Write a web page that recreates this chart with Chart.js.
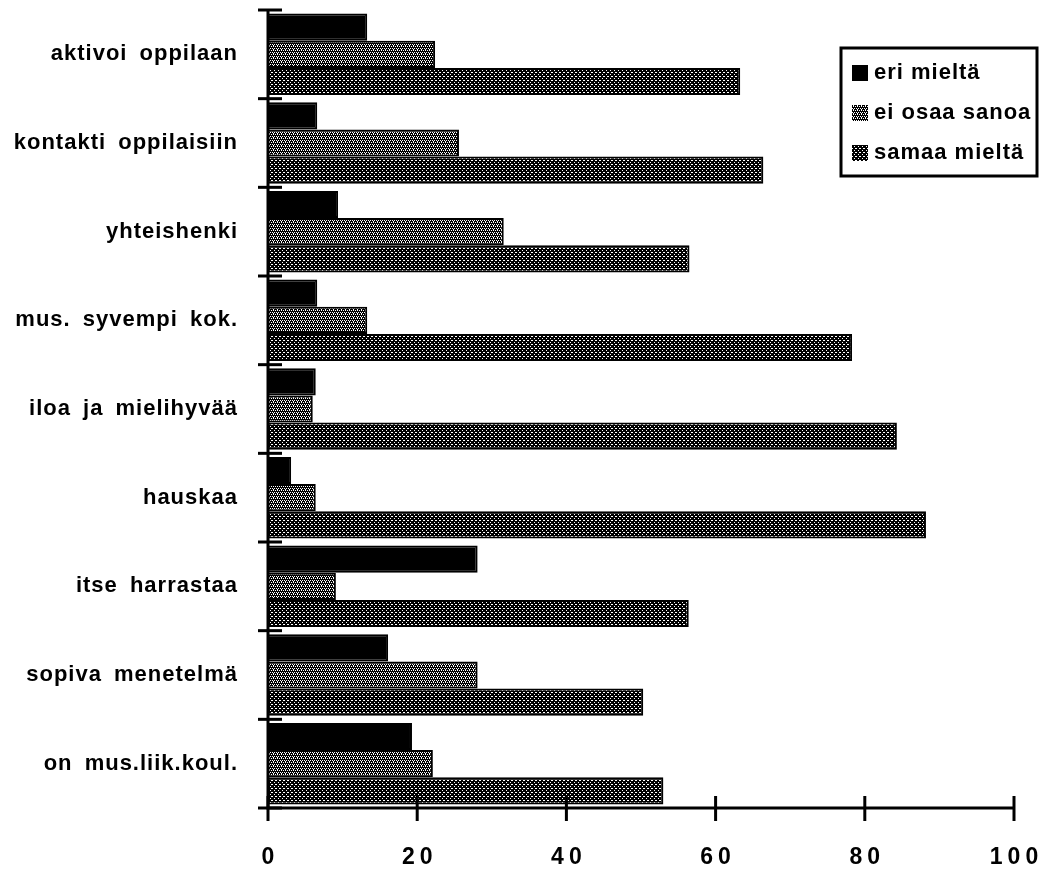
<!doctype html>
<html>

<head>
  <meta charset="utf-8" />
  <title>Mielipiteet</title>
  <script src="https://cdn.jsdelivr.net/npm/chart.js"></script>
  <style>
    html, body { margin: 0; padding: 0; background: #fff; }
    #wrap { width: 1040px; height: 869px; }
  </style>
</head>

<body>
  <div id="wrap"><canvas id="chart" width="1040" height="869"></canvas></div>
  <script>
    const categories = ['aktivoi oppilaan', 'kontakti oppilaisiin', 'yhteishenki', 'mus. syvempi kok.',
      'iloa ja mielihyvää', 'hauskaa', 'itse harrastaa', 'sopiva menetelmä', 'on mus.liik.koul.'];
    const seriesLabels = ['eri mieltä', 'ei osaa sanoa', 'samaa mieltä'];
    const eriMielta = [13.3, 6.6, 9.4, 6.6, 6.4, 3.1, 28.1, 16.1, 19.3];
    const eiOsaaSanoa = [22.4, 25.6, 31.6, 13.3, 6.0, 6.4, 9.1, 28.1, 22.1];
    const samaaMielta = [63.3, 66.4, 56.5, 78.3, 84.3, 88.2, 56.4, 50.3, 53.0];
    const xTicks = [0, 20, 40, 60, 80, 100];

    const FONT = '"Liberation Sans", Arial, sans-serif';

    // dot screen fills like the old print
    function screen(whiteDots) {
      const c = document.createElement('canvas');
      c.width = 4; c.height = 4;
      const g = c.getContext('2d');
      g.fillStyle = '#000';
      g.fillRect(0, 0, 4, 4);
      g.fillStyle = '#fff';
      whiteDots.forEach(p => g.fillRect(p[0], p[1], 1, 1));
      return g.createPattern(c, 'repeat');
    }
    const ctx = document.getElementById('chart').getContext('2d');
    const lightFill = screen([[0, 0], [2, 0], [1, 2], [3, 2], [1, 1]]);
    const darkFill = screen([[0, 0], [2, 2], [3, 0]]);
    const fills = ['#000', lightFill, darkFill];

    const axisTicks = {
      id: 'axisTicks',
      beforeDraw(chart) {
        chart.ctx.letterSpacing = '1px';
        chart.ctx.wordSpacing = '5px';
      },
      afterDraw(chart) {
        const c = chart.ctx, x = chart.scales.x, y = chart.scales.y;
        const left = x.getPixelForValue(0), bottom = chart.chartArea.bottom;
        c.save();
        c.strokeStyle = '#000';
        c.lineWidth = 3;
        // axis lines
        c.beginPath();
        c.moveTo(left, chart.chartArea.top);
        c.lineTo(left, bottom);
        c.lineTo(x.getPixelForValue(100), bottom);
        c.stroke();
        // value ticks crossing the axis, with spaced labels
        c.letterSpacing = '5px';
        c.font = 'bold 23px ' + FONT;
        c.textAlign = 'center';
        c.textBaseline = 'middle';
        c.fillStyle = '#000';
        xTicks.forEach(v => {
          const px = x.getPixelForValue(v);
          c.beginPath();
          c.moveTo(px, bottom - 12);
          c.lineTo(px, bottom + 13);
          c.stroke();
          c.fillText(String(v), px + 2.5, bottom + 50);
        });
        // category boundary ticks
        for (let i = 0; i <= categories.length; i++) {
          const py = y.getPixelForValue(i - 0.5);
          c.beginPath();
          c.moveTo(left - 10, py);
          c.lineTo(left + 14, py);
          c.stroke();
        }
        // legend box
        const bx = 841, by = 48, bw = 196, bh = 128;
        c.letterSpacing = '1px';
        c.wordSpacing = '0px';
        c.textAlign = 'left';
        c.fillStyle = '#fff';
        c.fillRect(bx, by, bw, bh);
        c.strokeRect(bx, by, bw, bh);
        c.font = 'bold 22px ' + FONT;
        chart.data.datasets.forEach((ds, i) => {
          const cy = by + 25 + i * 40;
          c.fillStyle = ds.backgroundColor;
          c.fillRect(bx + 11, cy - 8, 16, 16);
          c.fillStyle = '#000';
          c.fillText(ds.label, bx + 33, cy);
        });
        c.restore();
        c.letterSpacing = '0px';
        c.wordSpacing = '0px';
      }
    };

    new Chart(ctx, {
      type: 'bar',
      data: {
        labels: categories,
        datasets: [eriMielta, eiOsaaSanoa, samaaMielta].map((d, i) => ({
          label: seriesLabels[i],
          data: d,
          backgroundColor: fills[i],
          borderColor: '#000',
          borderWidth: 2,
          categoryPercentage: 0.92,
          barPercentage: 1.0
        }))
      },
      options: {
        indexAxis: 'y',
        responsive: false,
        animation: false,
        layout: { padding: { top: 10, right: 26, left: 0, bottom: 0 } },
        plugins: { legend: { display: false }, tooltip: { enabled: false } },
        scales: {
          x: {
            min: 0, max: 100,
            afterBuildTicks: s => { s.ticks = xTicks.map(v => ({ value: v })); },
            grid: { display: false },
            border: { display: false },
            afterFit: s => {
              s.height = 61;
              s.paddingLeft = 0; s.paddingRight = 0; s.paddingTop = 0; s.paddingBottom = 0;
            },
            ticks: { display: false }
          },
          y: {
            grid: { display: false },
            border: { display: false },
            afterFit: s => {
              s.width = 268;
              s.paddingLeft = 0; s.paddingRight = 0; s.paddingTop = 0; s.paddingBottom = 0;
            },
            ticks: {
              color: '#000',
              padding: 22,
              font: { family: FONT, size: 22, weight: 'bold' }
            }
          }
        }
      },
      plugins: [axisTicks]
    });
  </script>
</body>

</html>
